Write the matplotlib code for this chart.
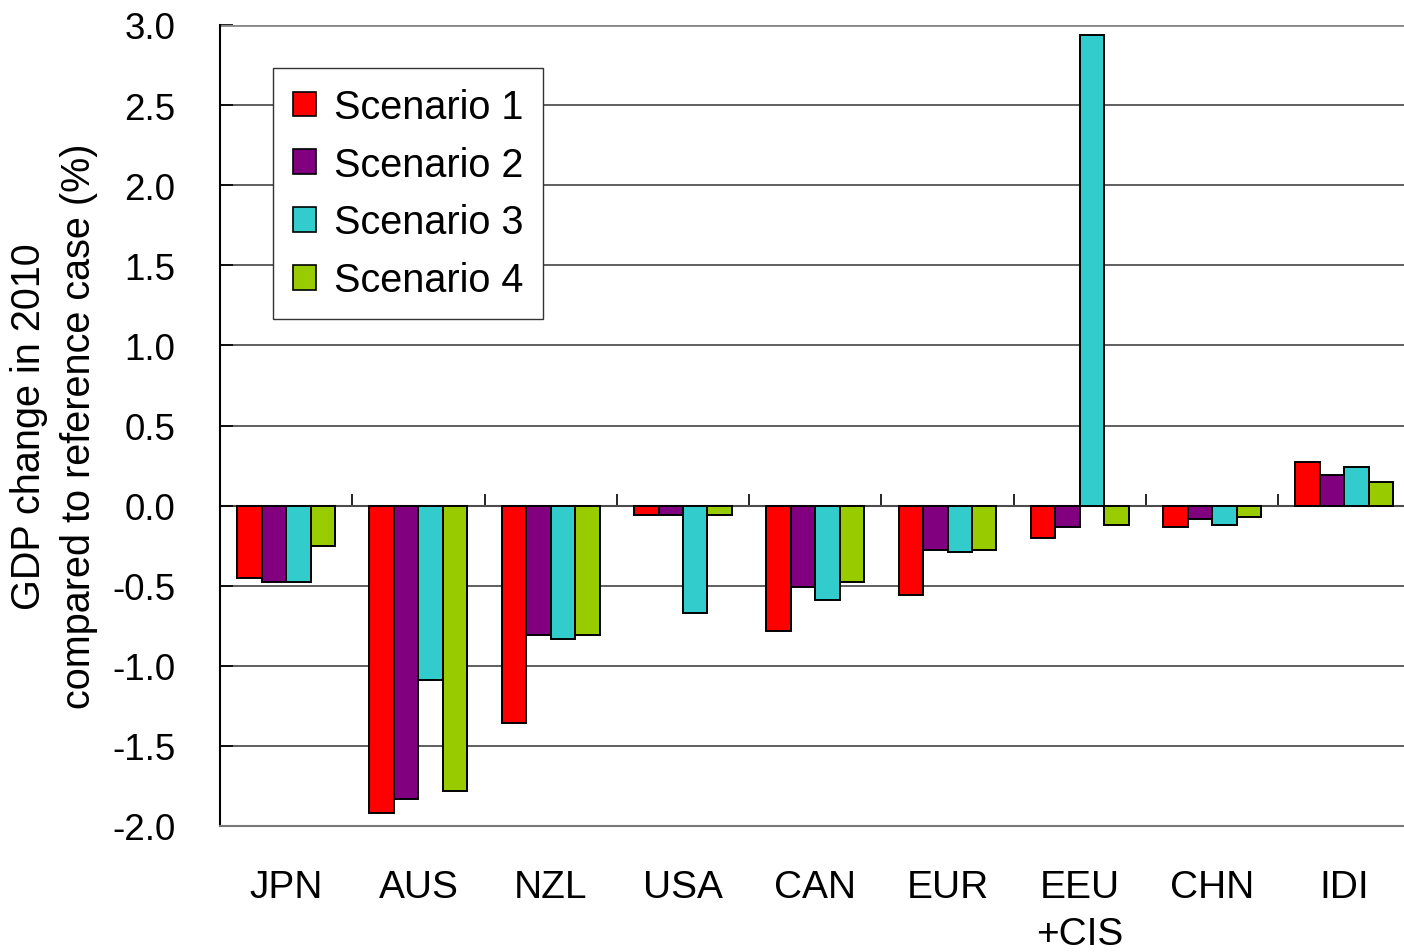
import numpy as np
import matplotlib
matplotlib.use("Agg")
import matplotlib.pyplot as plt
from matplotlib.patches import Patch

plt.rcParams['font.family'] = ['Liberation Sans', 'DejaVu Sans']

regions = ["JPN", "AUS", "NZL", "USA", "CAN", "EUR", "EEU\n+CIS", "CHN", "IDI"]
scenario_names = ["Scenario 1", "Scenario 2", "Scenario 3", "Scenario 4"]
scenario_1 = [-0.45, -1.92, -1.36, -0.06, -0.78, -0.56, -0.20, -0.135, 0.27]
scenario_2 = [-0.48, -1.83, -0.81, -0.06, -0.51, -0.275, -0.135, -0.085, 0.19]
scenario_3 = [-0.48, -1.09, -0.83, -0.67, -0.59, -0.29, 2.94, -0.12, 0.24]
scenario_4 = [-0.25, -1.78, -0.81, -0.06, -0.48, -0.28, -0.12, -0.07, 0.145]
yticks = [-2.0, -1.5, -1.0, -0.5, 0.0, 0.5, 1.0, 1.5, 2.0, 2.5, 3.0]

colors = ["#FF0000", "#800080", "#33CCCC", "#99CC00"]
series = [scenario_1, scenario_2, scenario_3, scenario_4]

W, H = 1404, 953
fig = plt.figure(figsize=(W / 100, H / 100), dpi=100)
ax_left, ax_right, ax_top, ax_bottom = 220, 1410.5, 26, 827
ax = fig.add_axes([ax_left / W, (H - ax_bottom) / H,
                   (ax_right - ax_left) / W, (ax_bottom - ax_top) / H])

x = np.arange(len(regions))
bw = 0.185
for i, (vals, c, name) in enumerate(zip(series, colors, scenario_names)):
    ax.bar(x + (i - 1.5) * bw, vals, width=bw, color=c, edgecolor="black",
           linewidth=1.4, label=name, zorder=3)

ax.set_xlim(-0.5, len(regions) - 0.5)
ax.set_ylim(-2.0, 3.0)
ax.set_yticks(yticks)
ax.set_yticklabels([f"{v:.1f}" for v in yticks], fontsize=26.5)
ax.yaxis.grid(True, color="#444444", linewidth=1.2, zorder=0)
ax.set_axisbelow(True)
ax.tick_params(axis="y", direction="in", length=9, width=1.2, pad=32, colors="black")

# category labels along the bottom
ax.set_xticks(x)
ax.set_xticklabels(regions, fontsize=28, linespacing=1.4, va="top")
ax.tick_params(axis="x", length=0, pad=31)

for s in ["top", "right"]:
    ax.spines[s].set_visible(False)
ax.spines["left"].set_color("black")
ax.spines["left"].set_linewidth(1.5)
ax.spines["bottom"].set_color("#777777")
ax.spines["bottom"].set_linewidth(1.5)
ax.axhline(3.0, color="#888888", linewidth=2, zorder=1)

# zero axis with category separator ticks
zero_frac = (0 - (-2.0)) / (3.0 - (-2.0))
sec = ax.secondary_xaxis(zero_frac)
sec.set_xticks(x[:-1] + 0.5)
sec.set_xticklabels([])
sec.tick_params(direction="in", length=9, width=1.2, color="black")
sec.spines["bottom"].set_color("#777777")
sec.spines["bottom"].set_linewidth(1.5)

ax.set_ylabel("GDP change in 2010\ncompared to reference case (%)",
              fontsize=28.5, linespacing=1.42, labelpad=10)

handles = [Patch(facecolor=c, edgecolor="black", linewidth=1.2) for c in colors]
leg = ax.legend(handles, scenario_names, loc="upper left",
                bbox_to_anchor=((273 - ax_left) / (ax_right - ax_left),
                                (ax_bottom - 69) / (ax_bottom - ax_top)),
                borderaxespad=0, fontsize=28.5, frameon=True, fancybox=False,
                handlelength=0.58, handleheight=0.58, handletextpad=0.45,
                labelspacing=0.5, borderpad=0.5, framealpha=1)
leg.get_frame().set_edgecolor("#333333")
leg.get_frame().set_linewidth(1.0)

fig.savefig("out.png", dpi=100)
